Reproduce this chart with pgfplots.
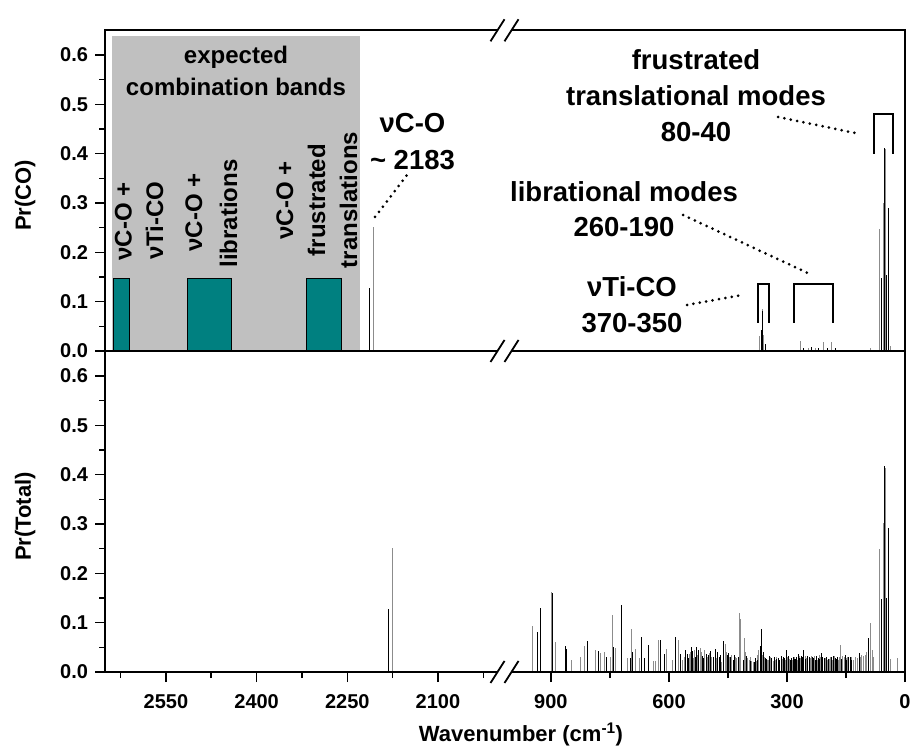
\documentclass[border=0pt]{standalone}
\usepackage{fontspec}
\setmainfont{Liberation Sans}
\usepackage{pgfplots}
\pgfplotsset{compat=1.18}
\definecolor{bandgrey}{HTML}{C0C0C0}
\definecolor{bandteal}{HTML}{008080}
\definecolor{linegrey}{HTML}{8C8C8C}

\newcommand{\fa}{\fontsize{24}{32}\selectfont\bfseries}
\newcommand{\fb}{\fontsize{27.5}{36}\selectfont\bfseries}

\pgfplotsset{
  spec/.style={scale only axis, height=320.7pt, ymin=0, ymax=0.65, clip=false,
    axis line style={draw=none}, tick align=outside, tick pos=left,
    major tick length=10pt, minor tick length=6pt,
    tick style={black, line width=1.6pt},
    tick label style={font=\fontsize{20}{20}\selectfont\bfseries},
    /pgf/number format/assume math mode=true,
    yticklabel style={anchor=east, xshift=-4pt, /pgf/number format/.cd, fixed, fixed zerofill, precision=1},
    xticklabel style={yshift=-9pt, /pgf/number format/1000 sep={}},
    x dir=reverse},
  lseg/.style={spec, width=399pt, xmin=1990, xmax=2650,
    ytick={0,0.1,0.2,0.3,0.4,0.5,0.6}, minor ytick={0.05,0.15,0.25,0.35,0.45,0.55}},
  rseg/.style={spec, width=400.5pt, xmin=0, xmax=1018, ytick=\empty},
  pk/.style={ycomb, no markers, line width=0.8pt, black},
  pkg/.style={ycomb, no markers, line width=0.8pt, linegrey},
}

\begin{document}
\begin{tikzpicture}[x=1pt,y=1pt]
\useasboundingbox (0,0) rectangle (910,747);

% ---- upper panel, left segment
\begin{axis}[lseg, at={(105.5pt,396pt)}, anchor=south west, xtick=\empty]
\addplot[fill=bandgrey, draw=none] coordinates {(2639,0) (2639,0.639) (2229,0.639) (2229,0)} -- cycle;
\addplot[fill=bandteal, draw=black, line width=0.5pt] coordinates {(2637.6,0) (2637.6,0.147) (2611,0.147) (2611,0)} -- cycle;
\addplot[fill=bandteal, draw=black, line width=0.5pt] coordinates {(2515,0) (2515,0.147) (2442,0.147) (2442,0)} -- cycle;
\addplot[fill=bandteal, draw=black, line width=0.5pt] coordinates {(2318,0) (2318,0.147) (2260,0.147) (2260,0)} -- cycle;
\addplot[pk] coordinates {(2214,0.128) (2207.6,0.134)};
\addplot[pkg] coordinates {(2207.2,0.252)};
\draw[line width=2pt] (rel axis cs:1,0) -- (rel axis cs:0,0) -- (rel axis cs:0,1) -- (rel axis cs:1,1);
\end{axis}

% ---- upper panel, right segment
\begin{axis}[rseg, at={(504.5pt,396pt)}, anchor=south west, xtick=\empty]
\addplot[pkg] coordinates {(369,0.030) (363.6,0.085) (361,0.032) (265,0.020) (246,0.006) (229,0.006)
  (208,0.018) (186,0.019) (89,0.006) (66,0.248) (56,0.299) (51,0.410) (36,0.010)};
\addplot[pk] coordinates {(366,0.042) (362,0.082) (356,0.015) (259,0.006) (237,0.008) (220,0.007)
  (198,0.006) (178,0.006) (59,0.147) (53,0.412) (47,0.155) (43,0.290)};
\draw[line width=2pt] (axis cs:79,0.400) -- (axis cs:79,0.480) -- (axis cs:30,0.480) -- (axis cs:30,0.400);
\draw[line width=2pt] (axis cs:373,0.057) -- (axis cs:373,0.1365) -- (axis cs:346,0.1365) -- (axis cs:346,0.057);
\draw[line width=2pt] (axis cs:281,0.057) -- (axis cs:281,0.1365) -- (axis cs:184,0.1365) -- (axis cs:184,0.057);
\draw[line width=2pt] (rel axis cs:0,0) -- (rel axis cs:1,0) -- (rel axis cs:1,1) -- (rel axis cs:0,1);
\end{axis}

% ---- lower panel, left segment
\begin{axis}[lseg, at={(105.5pt,75pt)}, anchor=south west,
  xtick={2100,2250,2400,2550}, minor xtick={2025,2175,2325,2475,2625}]
\addplot[pk] coordinates {(2182.6,0.128) (2176,0.134)};
\addplot[pkg] coordinates {(2175.6,0.252)};
\draw[line width=2pt] (rel axis cs:1,0) -- (rel axis cs:0,0) -- (rel axis cs:0,1) -- (rel axis cs:1,1);
\end{axis}

% ---- lower panel, right segment
\begin{axis}[rseg, at={(504.5pt,75pt)}, anchor=south west,
  xtick={0,300,600,900}, minor xtick={150,450,750}]
\addplot[pkg] coordinates {
  (947,0.093) (928,0.127) (898,0.162) (889,0.060) (847,0.025) (826,0.030) (815,0.053)
  (787,0.045) (773,0.038) (764,0.040) (748,0.030) (745,0.115) (736,0.048) (705,0.028)
  (695,0.087) (686,0.046) (676,0.028) (640,0.022) (634,0.022) (626,0.065) (606,0.047)
  (592,0.024) (575,0.064) (565.6,0.025) (560,0.030) (548.5,0.037) (545,0.040) (538,0.029)
  (535,0.045) (527,0.035) (519.5,0.048) (517,0.040) (510,0.044) (503,0.030) (497,0.038)
  (491.5,0.030) (480,0.028) (476,0.035) (470,0.025) (466,0.020) (457.5,0.056) (455,0.040)
  (447,0.030) (443,0.025) (440.5,0.035) (430,0.030) (427.5,0.028) (421.8,0.119)
  (417.5,0.107) (409,0.068) (405,0.040) (400.5,0.029) (396,0.025) (392,0.030) (389.5,0.022)
  (386,0.020) (378.5,0.022) (375,0.035) (371.8,0.044) (362,0.035)
  (358,0.030) (350,0.025) (347,0.024) (343,0.030) (335,0.022) (330,0.024) (326,0.030)
  (315,0.030) (311,0.027) (304,0.024) (298,0.030) (294,0.027) (286,0.025) (280,0.030)
  (277,0.027) (274,0.024) (268,0.032) (265,0.028) (262,0.026) (254,0.032) (250,0.028)
  (247,0.025) (241,0.028) (239,0.032) (236,0.022) (230,0.032) (226,0.026) (223,0.025)
  (218,0.035) (216,0.030) (214,0.026) (209,0.030) (206,0.026) (203,0.028) (196,0.024)
  (193,0.027) (190,0.030) (185,0.025) (182,0.030) (179,0.032) (173,0.026)
  (169,0.025) (166,0.030) (163,0.055) (160,0.032) (158,0.027) (155,0.030) (149,0.028)
  (146,0.030) (137,0.030) (130,0.024) (126,0.030) (120,0.028) (113,0.030) (110,0.034)
  (106,0.032) (101,0.034) (97,0.040) (89,0.100) (84,0.045) (80,0.030)
  (66,0.250) (56,0.302) (51,0.414) (36,0.026) (19.5,0.028)};
\addplot[pk] coordinates {
  (935,0.082) (926,0.130) (895,0.160) (862,0.052) (860,0.046) (807,0.062) (779,0.042)
  (758,0.030) (742,0.050) (722,0.135) (720,0.115) (699,0.028) (692,0.040) (669,0.071)
  (662,0.028) (652,0.055) (623,0.064) (611,0.037) (584,0.071) (570,0.036) (557,0.045)
  (553.5,0.036) (550,0.028) (542.5,0.051) (540,0.042) (533,0.030) (531.5,0.051) (524,0.045)
  (514.5,0.033) (512,0.028) (506,0.036) (500,0.035) (494,0.042) (487,0.030) (483,0.046)
  (478,0.040) (473,0.030) (468,0.035) (462,0.062) (451.5,0.034) (449,0.038) (445,0.030)
  (437,0.025) (434.5,0.034) (424,0.030) (412,0.025) (403,0.032) (394,0.022) (383.5,0.021)
  (381,0.028) (376,0.025) (368.4,0.053) (365,0.087) (360,0.040) (355,0.028) (353,0.027)
  (345,0.032) (340,0.024) (338.5,0.028) (332,0.030) (328,0.026) (323,0.028) (321.5,0.027)
  (318,0.024) (313,0.033) (308,0.030) (306,0.028) (301,0.044) (296,0.032) (291,0.024)
  (289,0.029) (284,0.030) (282,0.027) (279,0.026) (275,0.030) (271,0.037) (269,0.028)
  (263,0.032) (260,0.030) (257,0.045) (253,0.026) (248,0.032) (244,0.030) (242,0.028)
  (235,0.030) (233,0.028) (229,0.024) (224,0.032) (220,0.028) (217,0.026) (212,0.039)
  (210,0.031) (205,0.028) (201,0.030) (199,0.022) (195,0.026) (188,0.030) (186,0.028)
  (181,0.033) (176,0.028) (174,0.026) (171,0.030) (161,0.026) (152,0.034) (150,0.024)
  (143,0.030) (140,0.030) (135,0.024) (116,0.039) (93,0.068)
  (59,0.147) (53,0.417) (47,0.150) (43,0.292)};
\draw[line width=2pt] (rel axis cs:0,0) -- (rel axis cs:1,0) -- (rel axis cs:1,1) -- (rel axis cs:0,1);
\end{axis}

% ---- axis breaks
\foreach \yc in {716.7,396,75} {
  \fill[white] (497.5-2,\yc-3) -- (511.5-2,\yc-3) -- (511.5+2,\yc+3) -- (497.5+2,\yc+3) -- cycle;
  \draw[line width=1.8pt] (490.5,\yc-11) -- (504.5,\yc+11);
  \draw[line width=1.8pt] (504.5,\yc-11) -- (518.5,\yc+11);
}

% ---- axis titles
\node[rotate=90, anchor=base, font=\fontsize{22}{22}\selectfont\bfseries] at (31,551.5) {Pr(CO)};
\node[rotate=90, anchor=base, font=\fontsize{22}{22}\selectfont\bfseries] at (31,230.5) {Pr(Total)};
\node[anchor=base, font=\fontsize{22}{22}\selectfont\bfseries] at (521,6) {Wavenumber (cm\textsuperscript{-1})};

% ---- annotations in the grey band
\node[anchor=base, font=\fa] at (236,683) {expected};
\node[anchor=base, font=\fa] at (236,651) {combination bands};
\node[rotate=90, anchor=base, font=\fa] at (131.5,525.5) {νC-O +};
\node[rotate=90, anchor=base, font=\fa] at (163,526.5) {νTi-CO};
\node[rotate=90, anchor=base, font=\fa] at (202,534.5) {νC-O +};
\node[rotate=90, anchor=base, font=\fa] at (237,533.5) {librations};
\node[rotate=90, anchor=base, font=\fa] at (293,546.5) {νC-O +};
\node[rotate=90, anchor=base, font=\fa] at (325,547) {frustrated};
\node[rotate=90, anchor=base, font=\fa] at (357,547) {translations};

% ---- mode labels
\node[anchor=base, font=\fb] at (412.5,614) {νC-O};
\node[anchor=base, font=\fb] at (412.5,577) {\textasciitilde\ 2183};
\node[anchor=base, font=\fb] at (696,677) {frustrated};
\node[anchor=base, font=\fb] at (696,641) {translational modes};
\node[anchor=base, font=\fb] at (696,605) {80-40};
\node[anchor=base, font=\fb] at (624,545) {librational modes};
\node[anchor=base, font=\fb] at (624,510) {260-190};
\node[anchor=base, font=\fb] at (632,450) {νTi-CO};
\node[anchor=base, font=\fb] at (632,414) {370-350};

\begin{scope}[line width=3pt, line cap=round, dash pattern=on 0pt off 6.5pt]
\draw (375,530) -- (407,572);
\draw (778,630) -- (855,614);
\draw (683,532) -- (812,472);
\draw (687,442) -- (742,452);
\end{scope}
\end{tikzpicture}
\end{document}
